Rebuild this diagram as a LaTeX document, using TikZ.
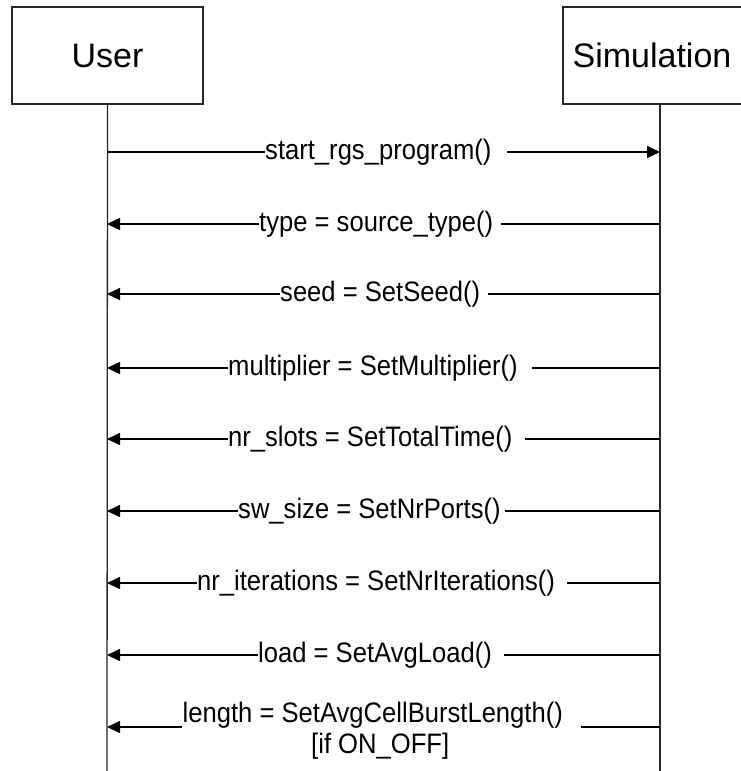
\documentclass[tikz,border=0pt]{standalone}
\usepackage{graphicx}
\usepackage{fontspec}
\setmainfont{Liberation Sans}
\usetikzlibrary{arrows.meta}
\newcommand{\tallt}[1]{\scalebox{1}[1.1]{#1}}
\tikzset{
  actor/.style={draw=black!85, line width=1.4pt, minimum width=191pt, minimum height=97pt, inner sep=0pt, font=\fontsize{34}{40}\selectfont},
  lifeline/.style={draw=black!85, line width=1.3pt},
  msg/.style={draw=black, line width=1.2pt, -{Triangle[length=13pt,width=12pt]}},
  lbl/.style={fill=white, inner sep=0pt, anchor=west, font=\fontsize{25.6}{28}\selectfont, text height=21pt, text depth=6pt},
  lblb/.style={inner sep=0pt, anchor=base west, font=\fontsize{25.6}{28}\selectfont}
}
\begin{document}
\begin{tikzpicture}[x=1pt,y=-1pt]
\useasboundingbox (0,0) rectangle (741,771);
\clip (0,0) rectangle (741,771);
\node[actor] (user) at (107.5,55.5) {User};
\node[actor, minimum width=194pt] (sim) at (660,55.5) {Simulation\kern16pt};
\coordinate (uend) at (107,771);
\coordinate (send) at (660,771);
\draw[lifeline] (user.south) -- (uend);
\draw[lifeline] (sim.south) -- (send);
% message anchors
\foreach \i/\y in {1/152,2/224,3/294,4/368,5/439,6/511,7/583,8/655,9/727}{
  \coordinate (u\i) at (107,\y);
  \coordinate (s\i) at (660,\y);
}
\draw[msg] (u1) -- (s1);
\foreach \i in {2,...,9}{ \draw[msg] (s\i) -- (u\i); }
\node[lbl] (l1) at (265,152) {\tallt{start\_rgs\_program()}\kern16pt};
\node[lbl] (l2) at (259,224) {\tallt{type = source\_type()}\kern8pt};
\node[lbl] (l3) at (280,294) {\tallt{seed = SetSeed()}\kern8pt};
\node[lbl] (l4) at (228,368) {\tallt{multiplier = SetMultiplier()}\kern14pt};
\node[lbl] (l5) at (228,439) {\tallt{nr\_slots = SetTotalTime()}\kern12pt};
\node[lbl] (l6) at (238,511) {\tallt{sw\_size = SetNrPorts()}\kern4pt};
\node[lbl] (l7) at (197,583) {\tallt{nr\_iterations = SetNrIterations()}\kern12pt};
\node[lbl] (l8) at (258,655) {\tallt{load = SetAvgLoad()}\kern12pt};
\node[lblb, fill=white, inner xsep=0.5pt, text depth=7pt] (l9) at (182,722) {\tallt{length = SetAvgCellBurstLength()}\kern18pt};
\node[lblb] (l9b) at (311,753) {\tallt{[if ON\_OFF]}};
\end{tikzpicture}
\end{document}
